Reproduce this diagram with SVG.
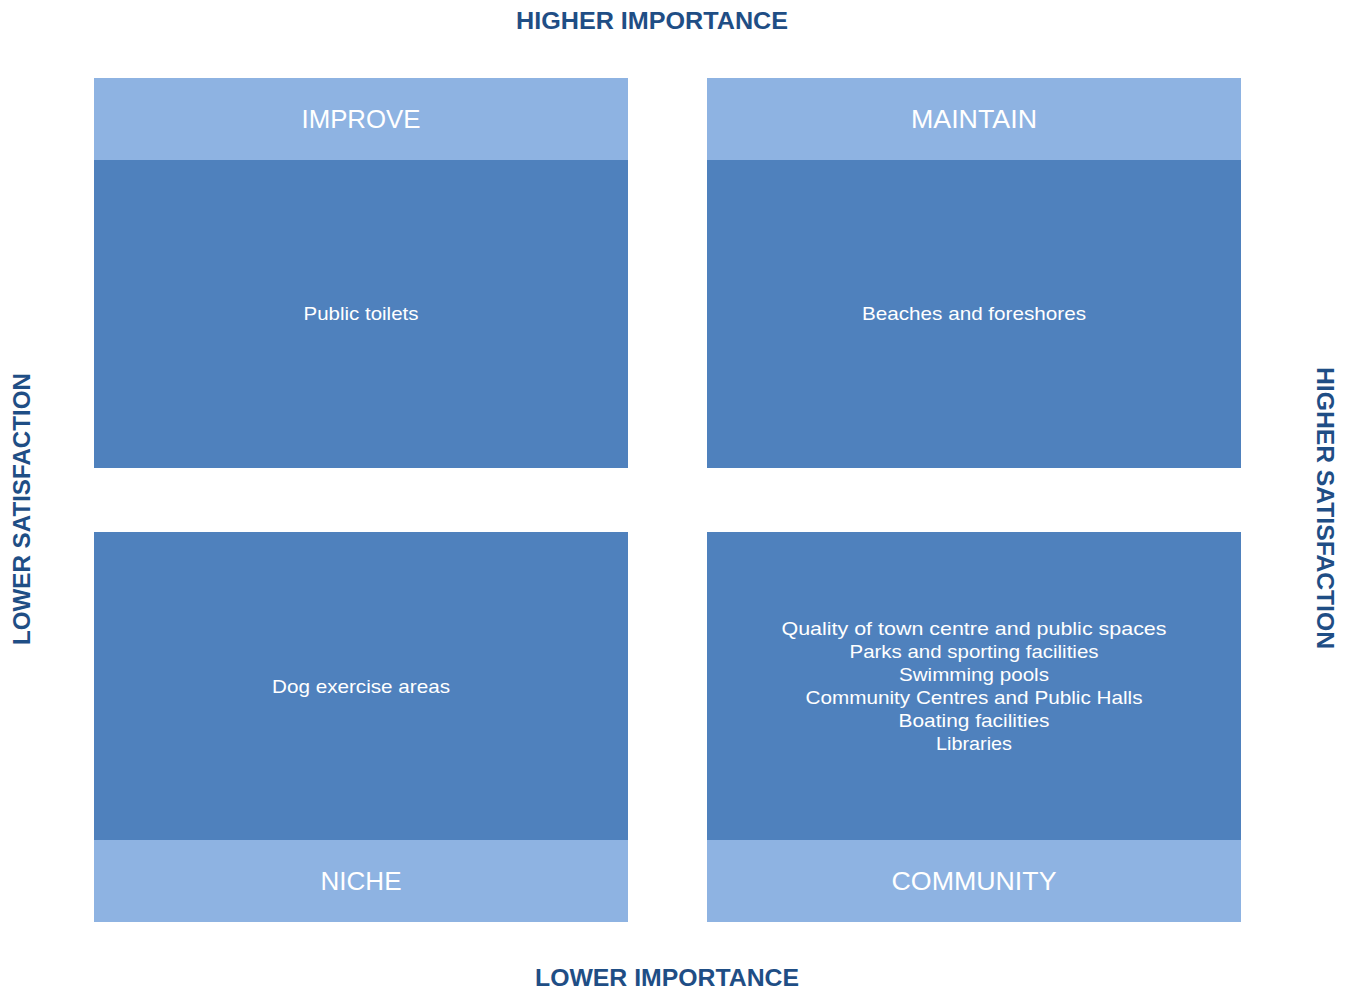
<svg xmlns="http://www.w3.org/2000/svg" width="1349" height="991" viewBox="0 0 1349 991">
<style>
.hdr{fill:#8EB3E2}
.body{fill:#4F81BD}
.lbl{font-family:"Liberation Sans",Arial,sans-serif;fill:#FFFFFF;text-anchor:middle}
.big{font-size:26px}
.small{font-size:19px}
.axis{font-family:"Liberation Sans",Arial,sans-serif;font-weight:bold;font-size:24px;fill:#1F4E85;text-anchor:middle}
</style>
<rect width="1349" height="991" fill="#FFFFFF"/>
<g id="axis-top"><text class="axis" x="652" y="29" textLength="272" lengthAdjust="spacingAndGlyphs">HIGHER IMPORTANCE</text></g>
<g id="axis-bottom"><text class="axis" x="667" y="986" textLength="264" lengthAdjust="spacingAndGlyphs">LOWER IMPORTANCE</text></g>
<g id="axis-left"><text class="axis" transform="translate(30,509) rotate(-90)" textLength="272" lengthAdjust="spacingAndGlyphs">LOWER SATISFACTION</text></g>
<g id="axis-right"><text class="axis" transform="translate(1317,508) rotate(90)" textLength="282" lengthAdjust="spacingAndGlyphs">HIGHER SATISFACTION</text></g>
<g id="improve">
<rect class="hdr" x="94" y="78" width="534" height="82"/>
<rect class="body" x="94" y="160" width="534" height="308"/>
<text class="lbl big" x="361" y="128" textLength="119" lengthAdjust="spacingAndGlyphs">IMPROVE</text>
<text class="lbl small" x="361" y="320" textLength="115" lengthAdjust="spacingAndGlyphs">Public toilets</text>
</g>
<g id="maintain">
<rect class="hdr" x="707" y="78" width="534" height="82"/>
<rect class="body" x="707" y="160" width="534" height="308"/>
<text class="lbl big" x="974" y="128" textLength="126" lengthAdjust="spacingAndGlyphs">MAINTAIN</text>
<text class="lbl small" x="974" y="320" textLength="224" lengthAdjust="spacingAndGlyphs">Beaches and foreshores</text>
</g>
<g id="niche">
<rect class="body" x="94" y="532" width="534" height="308"/>
<rect class="hdr" x="94" y="840" width="534" height="82"/>
<text class="lbl small" x="361" y="693" textLength="178" lengthAdjust="spacingAndGlyphs">Dog exercise areas</text>
<text class="lbl big" x="361" y="890" textLength="81" lengthAdjust="spacingAndGlyphs">NICHE</text>
</g>
<g id="community">
<rect class="body" x="707" y="532" width="534" height="308"/>
<rect class="hdr" x="707" y="840" width="534" height="82"/>
<text class="lbl small" x="974" y="635" textLength="385" lengthAdjust="spacingAndGlyphs">Quality of town centre and public spaces</text>
<text class="lbl small" x="974" y="658" textLength="249" lengthAdjust="spacingAndGlyphs">Parks and sporting facilities</text>
<text class="lbl small" x="974" y="681" textLength="150" lengthAdjust="spacingAndGlyphs">Swimming pools</text>
<text class="lbl small" x="974" y="704" textLength="337" lengthAdjust="spacingAndGlyphs">Community Centres and Public Halls</text>
<text class="lbl small" x="974" y="727" textLength="151" lengthAdjust="spacingAndGlyphs">Boating facilities</text>
<text class="lbl small" x="974" y="750" textLength="76" lengthAdjust="spacingAndGlyphs">Libraries</text>
<text class="lbl big" x="974" y="890" textLength="165" lengthAdjust="spacingAndGlyphs">COMMUNITY</text>
</g>
<g id="connectors"></g>
</svg>
